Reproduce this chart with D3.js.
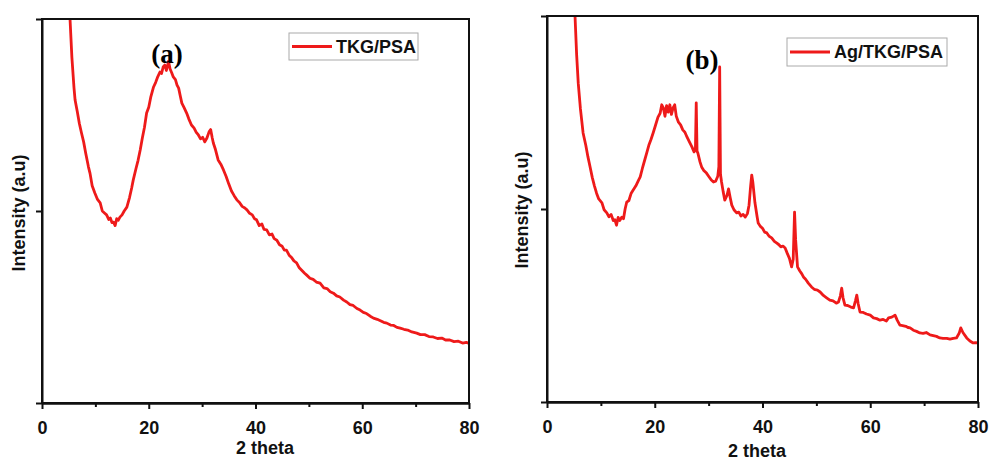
<!DOCTYPE html>
<html>
<head>
<meta charset="utf-8">
<script src="https://cdn.jsdelivr.net/npm/d3@7"></script>
<style>
  body { margin: 0; background: #fff; }
  svg { display: block; }
  .lbl { font-family: "Liberation Sans", Arial, sans-serif; font-weight: bold; font-size: 18px; fill: #111; }
  .tag { font-family: "Liberation Serif", "Times New Roman", serif; font-weight: bold; font-size: 27px; fill: #000; }
</style>
</head>
<body>
<svg id="chart" width="990" height="462"></svg>
<script>
// x axis ticks shared by both panels
const majorTicks = [0, 20, 40, 60, 80];
const minorTicks = [10, 30, 50, 70];
const intensityTicks = [0, 500, 1000];

// (a) TKG/PSA (arbitrary intensity units)
const thetaA = [5.0, 5.25, 5.6, 6.0, 6.2, 6.6, 7.0, 7.4, 7.8, 8.2, 8.7, 9.0, 9.4, 9.9, 10.4, 10.9, 11.3, 11.7, 12.1, 12.5,
  12.8, 13.1, 13.4, 13.7, 14.0, 14.3, 14.6, 15.0, 15.4, 15.9, 16.4, 16.8, 17.1, 17.6, 18.0, 18.4, 18.8, 19.2, 19.6, 20.0,
  20.4, 20.9, 21.3, 21.7, 22.1, 22.4, 22.7, 23.0, 23.3, 23.7, 24.0, 24.3, 24.6, 25.0, 25.3, 25.6, 25.9, 26.2, 26.6, 27.1,
  27.5, 28.0, 28.5, 28.9, 29.3, 29.7, 30.1, 30.5, 30.9, 31.3, 31.6, 31.9, 32.1, 32.5, 33.0, 33.5, 34.0, 34.5, 35.0, 35.5,
  36.0, 36.5, 37.0, 37.5, 38.0, 38.4, 38.9, 39.4, 39.8, 40.2, 40.7, 41.2, 41.6, 42.1, 42.6, 43.1, 43.5, 44.0, 44.5, 45.0,
  45.4, 45.8, 46.3, 46.8, 47.2, 47.7, 48.2, 48.7, 49.2, 49.6, 50.2, 50.8, 51.4, 52.1, 52.8, 53.4, 54.0, 54.6, 55.2, 55.8,
  56.5, 57.1, 57.7, 58.3, 59.0, 59.6, 60.2, 60.8, 61.5, 62.1, 62.8, 63.4, 64.0, 64.6, 65.3, 65.9, 66.5, 67.1, 67.8, 68.5,
  69.3, 70.2, 70.9, 71.7, 72.5, 73.3, 74.1, 74.9, 75.6, 76.4, 77.2, 78.0, 78.8, 79.5, 80.0];
const intensityA = [1080, 1000, 900, 820, 789, 760, 728, 703, 680, 650, 615, 598, 566, 547, 530, 521, 500, 495, 490, 478,
  482, 470, 471, 462, 480, 476, 484, 490, 500, 510, 535, 560, 581, 610, 632, 659, 690, 718, 755, 770,
  798, 823, 835, 850, 862, 858, 875, 880, 866, 890, 870, 860, 849, 842, 828, 820, 800, 781, 770, 755,
  740, 724, 716, 705, 698, 688, 692, 680, 690, 706, 712, 690, 677, 660, 633, 622, 607, 590, 570, 552,
  540, 529, 522, 512, 508, 503, 494, 490, 480, 477, 462, 466, 452, 451, 438, 440, 428, 424, 412, 408,
  398, 398, 385, 378, 370, 365, 352, 345, 338, 333, 325, 322, 315, 312, 300, 298, 290, 286, 279, 276,
  268, 263, 256, 254, 246, 242, 236, 233, 226, 221, 218, 214, 210, 208, 203, 202, 197, 195, 192, 190,
  185, 182, 178, 178, 173, 172, 168, 169, 164, 164, 160, 161, 156, 158, 155];

// (b) Ag/TKG/PSA
const thetaB = [5.0, 5.2, 5.5, 5.8, 6.2, 6.7, 7.2, 7.6, 8.0, 8.4, 8.8, 9.2, 9.6, 10.2, 10.6, 11.1, 11.5, 11.9, 12.3, 12.6,
  12.9, 13.2, 13.5, 13.9, 14.2, 14.5, 14.8, 15.2, 15.6, 16.0, 16.5, 17.0, 17.3, 17.7, 18.1, 18.5, 18.9, 19.3, 19.7, 20.1,
  20.6, 21.0, 21.3, 21.6, 21.9, 22.2, 22.5, 22.8, 23.1, 23.4, 23.7, 24.0, 24.4, 24.8, 25.2, 25.6, 26.0, 26.5, 26.9, 27.3,
  27.55, 27.7, 27.85, 28.0, 28.4, 28.7, 29.1, 29.6, 30.0, 30.5, 30.9, 31.3, 31.7, 31.9, 32.05, 32.2, 32.4, 32.7, 33.0, 33.4,
  33.7, 34.0, 34.3, 34.7, 35.2, 35.6, 36.0, 36.4, 36.8, 37.2, 37.5, 37.8, 38.0, 38.2, 38.6, 39.0, 39.2, 39.6, 40.0, 40.4,
  40.8, 41.2, 41.7, 42.2, 42.6, 43.0, 43.4, 43.8, 44.2, 44.6, 45.0, 45.4, 45.7, 45.95, 46.15, 46.5, 46.9, 47.3, 47.6, 48.0,
  48.5, 49.1, 49.6, 50.2, 50.7, 51.3, 51.9, 52.5, 53.1, 53.7, 54.1, 54.45, 54.7, 54.95, 55.3, 55.8, 56.4, 56.9, 57.25, 57.5,
  57.75, 58.1, 58.7, 59.3, 60.0, 60.6, 61.2, 61.8, 62.4, 63.0, 63.4, 64.0, 64.6, 65.0, 65.5, 66.0, 66.6, 67.0, 67.4, 68.0,
  68.6, 69.2, 69.8, 70.4, 71.1, 71.7, 72.3, 72.9, 73.5, 74.2, 74.8, 75.4, 76.0, 76.5, 76.8, 77.2, 77.9, 78.5, 79.1, 79.6, 80.0];
const intensityB = [1080, 1000, 900, 826, 760, 697, 665, 635, 609, 582, 560, 541, 526, 516, 498, 490, 480, 486, 470, 472,
  458, 478, 470, 479, 475, 500, 518, 522, 540, 549, 560, 575, 583, 605, 625, 645, 665, 680, 697, 715,
  738, 748, 770, 762, 740, 768, 751, 770, 745, 762, 770, 740, 725, 718, 705, 699, 686, 672, 661, 648,
  655, 775, 650, 645, 622, 609, 600, 593, 585, 575, 570, 572, 585, 610, 868, 590, 570, 545, 523, 535,
  552, 530, 510, 498, 490, 492, 482, 486, 479, 488, 510, 560, 588, 570, 516, 480, 464, 455, 450, 440,
  438, 430, 425, 416, 412, 408, 402, 404, 399, 385, 372, 350, 370, 492, 420, 350, 340, 332, 324, 318,
  308, 298, 292, 290, 285, 276, 270, 264, 262, 256, 259, 275, 295, 270, 251, 250, 246, 244, 262, 277,
  255, 233, 232, 228, 225, 218, 216, 212, 214, 210, 218, 220, 225, 212, 199, 198, 196, 193, 192, 186,
  183, 179, 178, 180, 174, 172, 170, 166, 165, 165, 163, 165, 166, 178, 192, 180, 166, 158, 153, 154, 153];

const panels = [
  { id: 'a', tag: '(a)', legend: 'TKG/PSA', theta: thetaA, intensity: intensityA,
    x0: 42, x1: 469, y0: 403, y1: 19, tagX: 167, tagY: 63, xLabelX: 265, xLabelY: 454, yLabelX: 25, yLabelY: 213,
    box: { x: 289, y: 33, w: 129, h: 27 } },
  { id: 'b', tag: '(b)', legend: 'Ag/TKG/PSA', theta: thetaB, intensity: intensityB,
    x0: 547, x1: 978, y0: 402, y1: 16, tagX: 702, tagY: 69, xLabelX: 757, xLabelY: 457, yLabelX: 528, yLabelY: 210,
    box: { x: 787, y: 38, w: 160, h: 28 } },
];

const svg = d3.select('#chart');
const red = '#ee1a1a';

panels.forEach((p) => {
  const x = d3.scaleLinear().domain([0, 80]).range([p.x0, p.x1]);
  const y = d3.scaleLinear().domain([0, 1000]).range([p.y0, p.y1]);
  const g = svg.append('g');

  g.append('clipPath').attr('id', `clip-${p.id}`)
    .append('rect')
    .attr('x', p.x0).attr('y', p.y1)
    .attr('width', p.x1 - p.x0).attr('height', p.y0 - p.y1);

  const pts = p.theta.map((t, i) => [t, p.intensity[i]]);
  const line = d3.line().x((d) => x(d[0])).y((d) => y(d[1]));

  g.append('path')
    .datum(pts)
    .attr('clip-path', `url(#clip-${p.id})`)
    .attr('d', line)
    .attr('fill', 'none')
    .attr('stroke', red)
    .attr('stroke-width', 2.8)
    .attr('stroke-linejoin', 'round');

  // frame
  g.append('rect')
    .attr('x', p.x0).attr('y', p.y1)
    .attr('width', p.x1 - p.x0).attr('height', p.y0 - p.y1)
    .attr('fill', 'none')
    .attr('stroke', '#111')
    .attr('stroke-width', 2);

  g.append('g')
    .attr('transform', `translate(0,${p.y0})`)
    .call(d3.axisBottom(x).tickValues(majorTicks).tickSize(6).tickSizeOuter(0).tickPadding(12))
    .attr('font-family', '"Liberation Sans", Arial, sans-serif')
    .attr('font-weight', 'bold')
    .attr('font-size', 18)
    .selectAll('.tick text')
    .attr('fill', '#111');
  g.append('g')
    .attr('transform', `translate(0,${p.y0})`)
    .call(d3.axisBottom(x).tickValues(minorTicks).tickSize(4).tickSizeOuter(0).tickFormat(''));
  g.append('g')
    .attr('transform', `translate(${p.x0},0)`)
    .call(d3.axisLeft(y).tickValues(intensityTicks).tickSize(6).tickSizeOuter(0).tickFormat(''));

  g.selectAll('.domain, .tick line').attr('stroke', '#111').attr('stroke-width', 2);

  g.append('text').attr('class', 'lbl')
    .attr('x', p.xLabelX).attr('y', p.xLabelY)
    .attr('text-anchor', 'middle')
    .text('2 theta');

  g.append('text').attr('class', 'lbl')
    .attr('transform', `translate(${p.yLabelX},${p.yLabelY}) rotate(-90)`)
    .attr('text-anchor', 'middle')
    .text('Intensity (a.u)');

  g.append('text').attr('class', 'tag')
    .attr('x', p.tagX).attr('y', p.tagY)
    .attr('text-anchor', 'middle')
    .text(p.tag);

  // legend
  const lg = g.append('g');
  lg.append('rect')
    .attr('x', p.box.x).attr('y', p.box.y)
    .attr('width', p.box.w).attr('height', p.box.h)
    .attr('fill', '#fff')
    .attr('stroke', '#aaa')
    .attr('stroke-width', 1);
  lg.append('line')
    .attr('x1', p.box.x + 3).attr('x2', p.box.x + 43)
    .attr('y1', p.box.y + p.box.h / 2).attr('y2', p.box.y + p.box.h / 2)
    .attr('stroke', red)
    .attr('stroke-width', 2.8);
  lg.append('text').attr('class', 'lbl')
    .attr('x', p.box.x + 47).attr('y', p.box.y + p.box.h / 2 + 6)
    .text(p.legend);
});
</script>
</body>
</html>
